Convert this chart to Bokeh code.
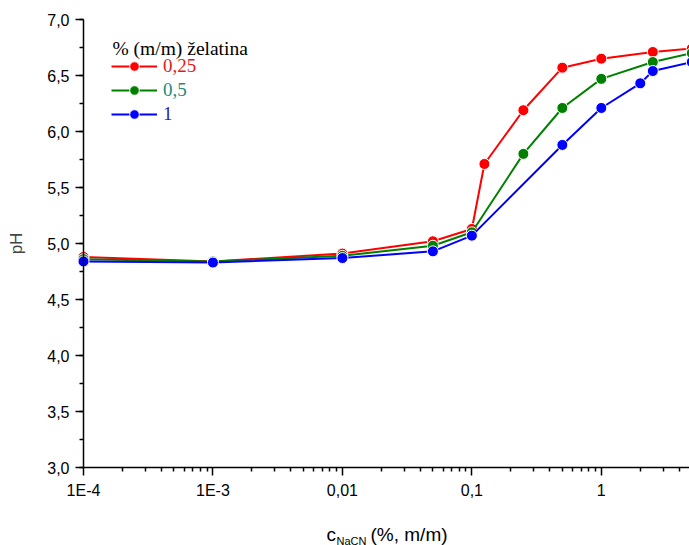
import math
from bokeh.plotting import figure
from bokeh.models import (Range1d, FixedTicker, SingleIntervalTicker, CustomJSTickFormatter,
                          Legend, LegendItem, Label)
from bokeh.embed import file_html
from bokeh.resources import INLINE

# ---- data ----
x_025 = [1e-4, 1e-3, 0.01, 0.05, 0.1, 0.125, 0.25, 0.5, 1, 2.5, 5]
ph_025 = [4.88, 4.84, 4.91, 5.02, 5.13, 5.71, 6.19, 6.57, 6.65, 6.71, 6.74]
x_05 = [1e-4, 1e-3, 0.01, 0.05, 0.1, 0.25, 0.5, 1, 2.5, 5]
ph_05 = [4.86, 4.84, 4.89, 4.98, 5.10, 5.80, 6.21, 6.47, 6.62, 6.70]
x_1 = [1e-4, 1e-3, 0.01, 0.05, 0.1, 0.5, 1, 2, 2.5, 5]
ph_1 = [4.84, 4.83, 4.87, 4.93, 5.07, 5.88, 6.21, 6.43, 6.54, 6.62]

series_names = ["0,25", "0,5", "1"]
legend_title = "% (m/m) želatina"
x_major_ticks = [1e-4, 1e-3, 0.01, 0.1, 1]
x_minor_ticks = [k * 10.0 ** e for e in range(-4, 1) for k in range(2, 10)]
x_min, x_max = 1e-4, 4.8
y_min, y_max = 3.0, 7.0

colors = ["#ff0000", "#008000", "#0000ff"]
text_colors = ["#e41a1a", "#1f8a7a", "#1f1fb0"]

# The frame covers the whole canvas; both axes are pinned inside it.
W, H = 689, 545
left, top, bottom = 83, 19, 467          # pixel positions of the axes
px_per_dec = (W - left) / (math.log10(x_max) - math.log10(x_min))
px_per_unit = (bottom - top) / (y_max - y_min)
xr = Range1d(10 ** (math.log10(x_min) - left / px_per_dec), x_max)
yr = Range1d(y_min - (H - bottom) / px_per_unit, y_max + top / px_per_unit)

p = figure(width=W, height=H, x_axis_type="log", x_range=xr, y_range=yr,
           output_backend="svg", toolbar_location=None,
           min_border_left=0, min_border_right=0, min_border_top=0, min_border_bottom=0)
p.outline_line_color = None
p.xgrid.visible = False
p.ygrid.visible = False
p.background_fill_color = "white"
p.border_fill_color = "white"

renderers = []
for xs, ys, c in zip([x_025, x_05, x_1], [ph_025, ph_05, ph_1], colors):
    l = p.line(xs, ys, line_color=c, line_width=2)
    s = p.scatter(xs, ys, size=11, fill_color=c, line_color="white", line_width=1)
    renderers.append((l, s))

# axes
for ax in (p.xaxis[0], p.yaxis[0]):
    ax.axis_line_width = 1.5
    ax.major_tick_line_width = 1.5
    ax.minor_tick_line_width = 1.5
    ax.major_tick_out = 8
    ax.major_tick_in = 0
    ax.minor_tick_out = 4
    ax.minor_tick_in = 0
    ax.major_label_text_font = "Liberation Sans"
    ax.major_label_text_font_size = "16px"
    ax.major_label_text_color = "black"
    ax.axis_line_color = "black"

p.xaxis.fixed_location = y_min
p.xaxis.bounds = (x_min, 1000)
p.xaxis.ticker = FixedTicker(ticks=x_major_ticks, minor_ticks=x_minor_ticks)
p.xaxis.formatter = CustomJSTickFormatter(code="""
    if (tick >= 0.01) { return tick.toString().replace('.', ','); }
    return '1E' + Math.round(Math.log10(tick));
""")
p.xaxis.major_label_standoff = 6

p.yaxis.fixed_location = x_min
p.yaxis.bounds = (y_min, y_max)
p.yaxis.ticker = SingleIntervalTicker(interval=0.5, num_minor_ticks=2)
p.yaxis.formatter = CustomJSTickFormatter(code="return tick.toFixed(1).replace('.', ',');")
p.yaxis.major_label_standoff = 6
p.yaxis.axis_label = "pH"
p.yaxis.axis_label_text_font = "Liberation Sans"
p.yaxis.axis_label_text_font_size = "17px"
p.yaxis.axis_label_text_font_style = "normal"
p.yaxis.axis_label_standoff = 18

# x axis label with subscript (screen units relative to the frame's bottom-left)
lab_kw = dict(x_units="screen", y_units="screen", text_font="Liberation Sans",
              text_color="black", text_baseline="alphabetic")
p.add_layout(Label(x=326, y=H - 534, text="c", text_font_size="19px", **lab_kw))
p.add_layout(Label(x=336, y=H - 540, text="NaCN", text_font_size="11px", **lab_kw))
p.add_layout(Label(x=370, y=H - 534, text="(%, m/m)", text_font_size="19px", **lab_kw))

# legend title
p.add_layout(Label(x=112, y=H - 48, x_units="screen", y_units="screen",
                   text=legend_title, text_baseline="alphabetic",
                   text_font="Liberation Serif", text_font_size="19.5px", text_color="black"))

row_centers = [66, 90, 114]
for (l, s), name, tc, yc in zip(renderers, series_names, text_colors, row_centers):
    leg = Legend(items=[LegendItem(label=name, renderers=[l, s])],
                 location=(111, H - yc - 12), padding=0, margin=0, spacing=0,
                 glyph_width=46, glyph_height=24, label_height=24, label_standoff=6,
                 border_line_color=None, background_fill_alpha=0,
                 label_text_font="Liberation Serif", label_text_font_size="19px",
                 label_text_color=tc)
    p.add_layout(leg)

open("out.html", "w").write(file_html(p, INLINE))
